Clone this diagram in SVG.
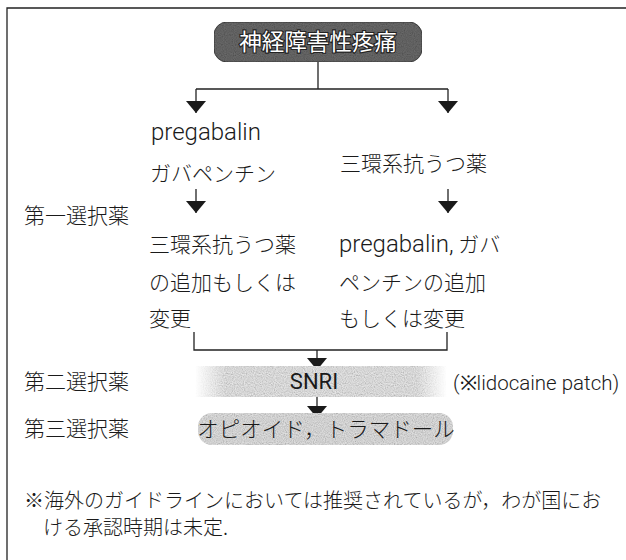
<svg xmlns="http://www.w3.org/2000/svg" width="626" height="560" viewBox="0 0 626 560">
<defs>
<style>
.jp{font-family:"Noto Sans CJK JP","Noto Sans",sans-serif;font-size:21px;font-weight:300;fill:#1a1a1a}
.lat{font-family:Roboto,"Liberation Sans",Arial,sans-serif;font-size:24px;font-weight:300;fill:#1a1a1a}
.ln{stroke:#222;stroke-width:1.3;fill:none}
.head{fill:#1a1a1a}
</style>
<marker id="ah" viewBox="0 0 12 20" refX="12" refY="10" markerWidth="12" markerHeight="20" markerUnits="userSpaceOnUse" orient="auto">
<path d="M0,0 L12,10 L0,20 Z" class="head"/>
</marker>
<filter id="grain" x="0" y="0" width="100%" height="100%">
<feTurbulence type="fractalNoise" baseFrequency="0.9" numOctaves="1" seed="3" result="n"/>
<feColorMatrix in="n" type="saturate" values="0" result="g"/>
<feComposite in="g" in2="SourceGraphic" operator="in" result="m"/>
<feBlend in="SourceGraphic" in2="m" mode="multiply"/>
</filter>
<linearGradient id="fade" x1="0" x2="1" y1="0" y2="0">
<stop offset="0" stop-color="#f2f2f2" stop-opacity="0"/>
<stop offset="0.12" stop-color="#f2f2f2"/>
<stop offset="0.88" stop-color="#f2f2f2"/>
<stop offset="1" stop-color="#f2f2f2" stop-opacity="0"/>
</linearGradient>
</defs>
<rect x="0" y="0" width="626" height="560" fill="#fff"/>
<g id="frame">
<path d="M7,560 L7,8 L626,8" class="ln" stroke-width="1.6"/>
</g>
<g id="connectors">
<path d="M318,62 L318,89 M196,89 L448,89" class="ln"/>
<path d="M196,89 L196,113" class="ln" marker-end="url(#ah)"/>
<path d="M448,89 L448,113" class="ln" marker-end="url(#ah)"/>
<path d="M196,189 L196,213" class="ln" marker-end="url(#ah)"/>
<path d="M448,189 L448,213" class="ln" marker-end="url(#ah)"/>
<path d="M194,332 L194,350 L447,350 L447,332" class="ln"/>
<path d="M317,350 L317,370" class="ln" marker-end="url(#ah)"/>
<path d="M317,397 L317,418" class="ln" marker-end="url(#ah)"/>
</g>
<g id="n-top">
<rect x="214" y="22" width="208" height="40" rx="13" fill="#6e6e6e" stroke="#444" stroke-width="1" filter="url(#grain)"/>
<text x="318" y="50" text-anchor="middle" class="jp" style="font-size:22.5px;font-weight:400;fill:#fff;stroke:#222;stroke-width:2.2;paint-order:stroke">神経障害性疼痛</text>
</g>
<g id="n-left1">
<text x="151" y="140" class="lat">pregabalin</text>
<text x="150" y="181" class="jp">ガバペンチン</text>
</g>
<g id="n-right1">
<text x="340" y="171" class="jp">三環系抗うつ薬</text>
</g>
<g id="n-label1">
<text x="24" y="223" class="jp">第一選択薬</text>
</g>
<g id="n-left2">
<text x="149" y="252" class="jp">三環系抗うつ薬</text>
<text x="149" y="290" class="jp">の追加もしくは</text>
<text x="149" y="326" class="jp">変更</text>
</g>
<g id="n-right2">
<text x="339" y="252" class="jp"><tspan class="lat">pregabalin,</tspan> ガバ</text>
<text x="339" y="290" class="jp">ペンチンの追加</text>
<text x="339" y="326" class="jp">もしくは変更</text>
</g>
<g id="n-snri">
<rect x="195" y="366" width="252" height="31" fill="url(#fade)" filter="url(#grain)"/>
<text x="314" y="389" text-anchor="middle" class="lat" style="font-size:22px;font-weight:400">SNRI</text>
</g>
<g id="n-label2">
<text x="24" y="389" class="jp">第二選択薬</text>
</g>
<g id="n-lido">
<text x="453" y="390" class="lat" style="font-size:20.5px">(※lidocaine patch)</text>
</g>
<g id="n-label3">
<text x="24" y="436" class="jp">第三選択薬</text>
</g>
<g id="n-opioid">
<rect x="198" y="413" width="255" height="32" rx="14" fill="#ebebeb" filter="url(#grain)"/>
<text x="326" y="437" text-anchor="middle" class="jp" style="font-size:21.5px">オピオイド，トラマドール</text>
</g>
<g id="n-note">
<text x="24" y="508" class="jp" style="font-size:20px">※海外のガイドラインにおいては推奨されているが，わが国にお</text>
<text x="43" y="535" class="jp" style="font-size:20px">ける承認時期は未定.</text>
</g>
</svg>
